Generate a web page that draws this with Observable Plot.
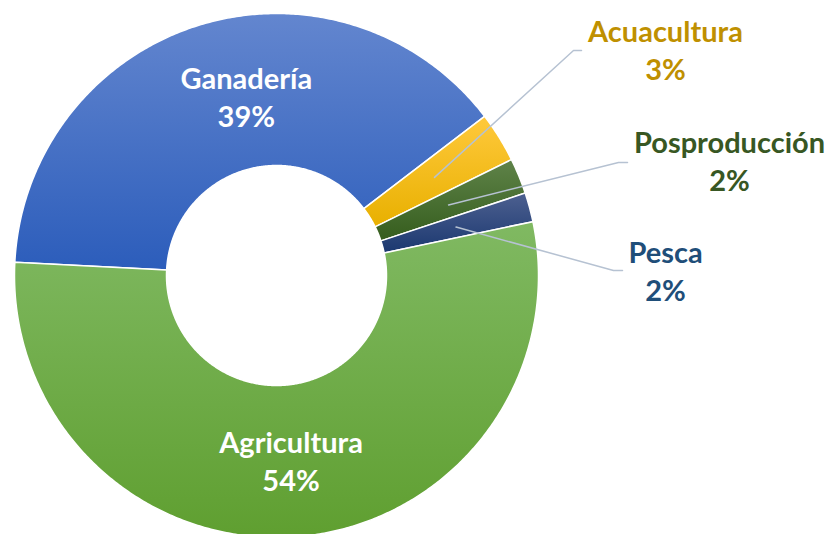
<!DOCTYPE html>
<html><head><meta charset="utf-8">
<script src="https://cdn.jsdelivr.net/npm/d3@7"></script>
<script src="https://cdn.jsdelivr.net/npm/@observablehq/plot@0.6"></script>
<style>body{margin:0;background:#fff} #chart{width:830px;height:534px;overflow:hidden}</style>
</head><body><div id="chart"></div>
<script>
// ---- data ----
const categories = ["Ganadería", "Acuacultura", "Posproducción", "Pesca", "Agricultura"];
const values = [38.8, 3.1, 2.2, 1.8, 54.1];
const pctLabels = ["39%", "3%", "2%", "2%", "54%"];

// ---- styles ----
const gradTop = ["#6386cf", "#ffc93c", "#5f8349", "#4d6090", "#80b962"];
const gradBottom = ["#2c5dbb", "#e8b000", "#355d1d", "#1b3870", "#5f9f30"];
const labelColor = ["#ffffff", "#bf9000", "#385723", "#1f4e79", "#ffffff"];
const inside = [true, false, false, false, true];

// ---- layout (pixels relative to donut centre, y up) ----
const W = 830, H = 534, CX = 276, CY = 275, R = 262, R0 = 110, START = 272.9;
const insideNudge = {"Ganadería": [25, 2], "Agricultura": [0, 1]};
const outsideLabelPos = {"Acuacultura": [389, 227], "Posproducción": [453, 116], "Pesca": [389, 6]};
const leaderElbow = {"Acuacultura": [[297, 225], [305, 225]], "Posproducción": [[342, 113], [351, 113]], "Pesca": [[337, 5], [346, 5]]};

const total = d3.sum(values);
const rad = d => d * Math.PI / 180;
const pol = (r, a) => ({x: r * Math.sin(rad(a)), y: r * Math.cos(rad(a))});

let acc = START;
const slices = categories.map((name, i) => {
  const a0 = acc, a1 = acc + values[i] / total * 360;
  acc = a1;
  return {name, i, a0, a1, mid: (a0 + a1) / 2};
});

const slicePts = [];
for (const s of slices) {
  const n = Math.max(6, Math.ceil((s.a1 - s.a0) / 0.5));
  const pts = [];
  for (let k = 0; k <= n; k++) pts.push(pol(R, s.a0 + (s.a1 - s.a0) * k / n));
  for (let k = n; k >= 0; k--) pts.push(pol(R0, s.a0 + (s.a1 - s.a0) * k / n));
  pts.push(pts[0]);
  for (const p of pts) slicePts.push({...p, name: s.name, grad: `url(#grad${s.i})`});
}

const labelRows = slices.map(s => {
  let x, y;
  if (inside[s.i]) {
    const c = pol((R + R0) / 2, s.mid);
    const nd = insideNudge[s.name] || [0, 0];
    x = c.x + nd[0]; y = c.y + nd[1];
  } else {
    [x, y] = outsideLabelPos[s.name];
  }
  return {x, y, text: s.name + "\n" + pctLabels[s.i], color: labelColor[s.i]};
});

const leaderPts = [];
for (const s of slices) {
  if (inside[s.i]) continue;
  const st = pol((R + R0) / 2, s.mid);
  leaderPts.push({...st, name: s.name});
  for (const [x, y] of leaderElbow[s.name]) leaderPts.push({x, y, name: s.name});
}

const svg = Plot.plot({
  width: W, height: H,
  margin: 0,
  x: {domain: [-CX, W - CX], axis: null},
  y: {domain: [-(H - CY), CY], axis: null},
  color: {type: "identity"},
  style: {background: "white", fontFamily: "Lato, 'Open Sans', sans-serif"},
  marks: [
    Plot.line(slicePts, {x: "x", y: "y", z: "name", fill: "grad", stroke: "white", strokeWidth: 1.5, curve: "linear"}),
    Plot.line(leaderPts, {x: "x", y: "y", z: "name", stroke: "#b6c2d2", strokeWidth: 1.5, curve: "linear"}),
    Plot.text(labelRows, {x: "x", y: "y", text: "text", fill: "color", fontSize: 29, fontWeight: "bold", lineHeight: 1.31, fontFamily: "Lato"})
  ]
});

const defs = d3.select(svg).insert("defs", ":first-child");
slices.forEach(s => {
  const g = defs.append("linearGradient").attr("id", `grad${s.i}`).attr("x1", 0).attr("y1", 0).attr("x2", 0).attr("y2", 1);
  g.append("stop").attr("offset", "0%").attr("stop-color", gradTop[s.i]);
  g.append("stop").attr("offset", "100%").attr("stop-color", gradBottom[s.i]);
});

document.getElementById("chart").appendChild(svg);
</script>
</body></html>
